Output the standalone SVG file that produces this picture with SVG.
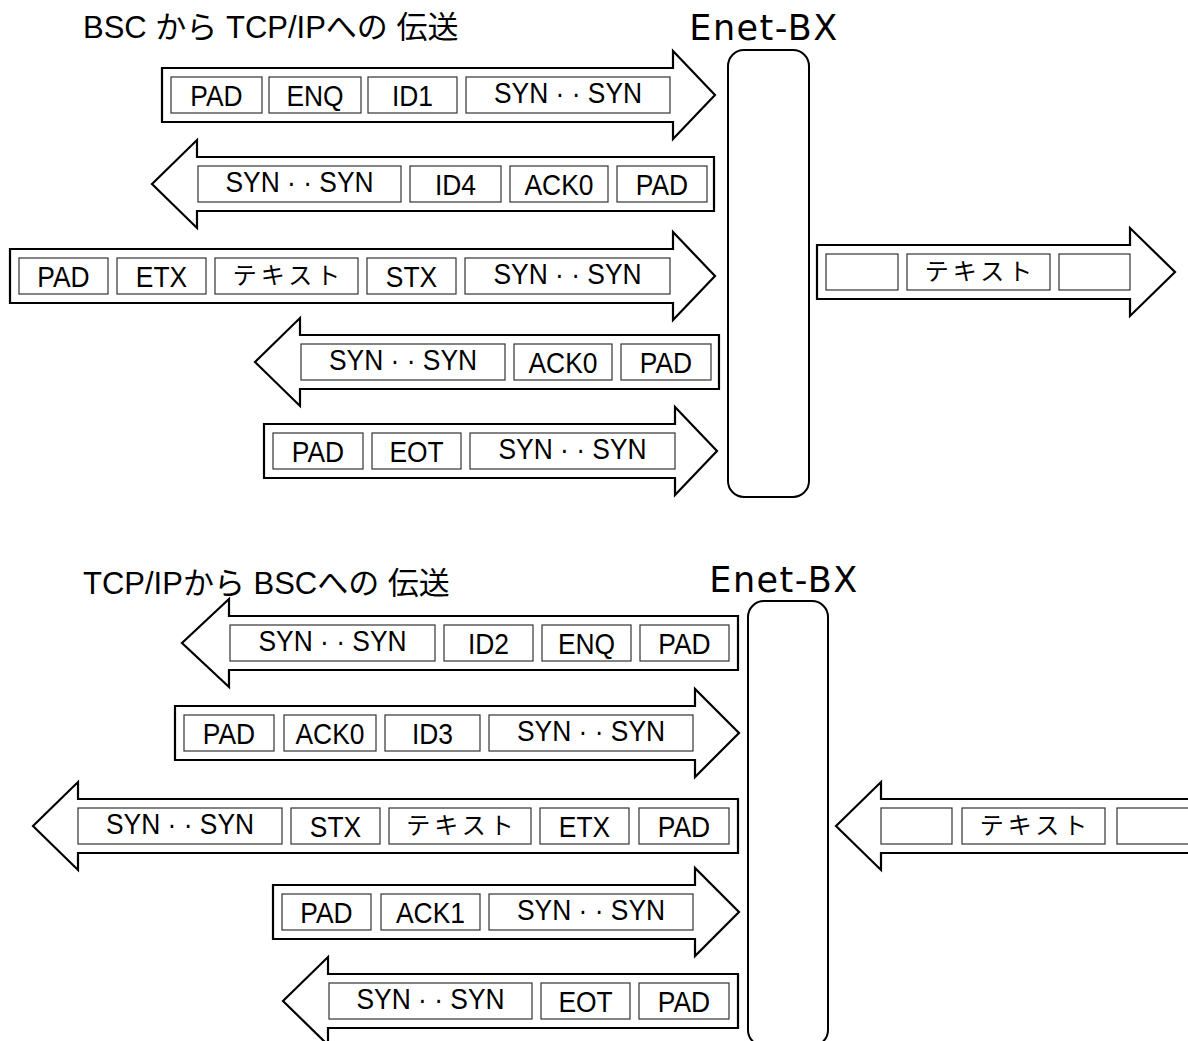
<svg xmlns="http://www.w3.org/2000/svg" width="1188" height="1041" viewBox="0 0 1188 1041">
<style>
.bg{fill:#fff}
.arr{fill:#fff;stroke:#000;stroke-width:2.2;stroke-linejoin:miter}
.box{fill:#fff;stroke:#333;stroke-width:1.2}
.dev{fill:#fff;stroke:#000;stroke-width:2}
.t{font-family:"Liberation Sans",Arial,sans-serif;font-size:30px;text-anchor:middle;fill:#000}
.j{font-family:"Noto Sans CJK JP",sans-serif;font-size:24px;letter-spacing:4px;text-anchor:middle;fill:#000}
.title{font-family:"Liberation Sans","Noto Sans CJK JP",sans-serif;font-size:31px;fill:#000}
.enet{font-family:"DejaVu Sans",sans-serif;font-size:35px;letter-spacing:1.5px;text-anchor:middle;fill:#000}
</style>
<rect class="bg" x="0" y="0" width="1188" height="1041"/>

<text class="title" x="83" y="38">BSC から TCP/IPへの 伝送</text>
<text class="title" x="83" y="594">TCP/IPから BSCへの 伝送</text>

<g id="enet1">
<text class="enet" x="764" y="40">Enet-BX</text>
<rect class="dev" x="728" y="50" width="81" height="447" rx="16"/>
</g>
<g id="enet2">
<text class="enet" x="784" y="592">Enet-BX</text>
<rect class="dev" x="748" y="601" width="80" height="445" rx="16"/>
</g>

<g id="connectors">
<g id="a1">
<polygon class="arr" points="162,68 673,68 673,51 715,95 673,139 673,122 162,122"/>
<rect class="box" x="171" y="77" width="91" height="36"/>
<rect class="box" x="269" y="77" width="92" height="36"/>
<rect class="box" x="368" y="77" width="89" height="36"/>
<rect class="box" x="466" y="77" width="204" height="36"/>
<text class="t" transform="translate(216.5,106) scale(0.88,1)">PAD</text>
<text class="t" transform="translate(315,106) scale(0.88,1)">ENQ</text>
<text class="t" transform="translate(412.5,106) scale(0.88,1)">ID1</text>
<text class="t" transform="translate(568,103) scale(0.88,1)">SYN · · SYN</text>
</g>
<g id="a2">
<polygon class="arr" points="152,184 197,140 197,157 714,157 714,211 197,211 197,228"/>
<rect class="box" x="198" y="166" width="203" height="36"/>
<rect class="box" x="410" y="166" width="91" height="36"/>
<rect class="box" x="510" y="166" width="98" height="36"/>
<rect class="box" x="617" y="166" width="90" height="36"/>
<text class="t" transform="translate(299.5,192) scale(0.88,1)">SYN · · SYN</text>
<text class="t" transform="translate(455.5,195) scale(0.88,1)">ID4</text>
<text class="t" transform="translate(559,195) scale(0.88,1)">ACK0</text>
<text class="t" transform="translate(662,195) scale(0.88,1)">PAD</text>
</g>
<g id="a3">
<polygon class="arr" points="10,249 673,249 673,232 715,276 673,320 673,303 10,303"/>
<rect class="box" x="19" y="258" width="89" height="36"/>
<rect class="box" x="117" y="258" width="89" height="36"/>
<rect class="box" x="215" y="258" width="143" height="36"/>
<rect class="box" x="367" y="258" width="89" height="36"/>
<rect class="box" x="465" y="258" width="205" height="36"/>
<text class="t" transform="translate(63.5,287) scale(0.88,1)">PAD</text>
<text class="t" transform="translate(161.5,287) scale(0.88,1)">ETX</text>
<text class="j" x="288.5" y="284">テキスト</text>
<text class="t" transform="translate(411.5,287) scale(0.88,1)">STX</text>
<text class="t" transform="translate(567.5,284) scale(0.88,1)">SYN · · SYN</text>
</g>
<g id="r1">
<polygon class="arr" points="817,245 1130,245 1130,228 1175,272 1130,316 1130,299 817,299"/>
<rect class="box" x="826" y="254" width="72" height="36"/>
<rect class="box" x="907" y="254" width="143" height="36"/>
<rect class="box" x="1059" y="254" width="71" height="36"/>
<text class="j" x="980.5" y="280">テキスト</text>
</g>
<g id="a4">
<polygon class="arr" points="255,362 300,318 300,335 719,335 719,389 300,389 300,406"/>
<rect class="box" x="301" y="344" width="204" height="36"/>
<rect class="box" x="514" y="344" width="98" height="36"/>
<rect class="box" x="621" y="344" width="90" height="36"/>
<text class="t" transform="translate(403,370) scale(0.88,1)">SYN · · SYN</text>
<text class="t" transform="translate(563,373) scale(0.88,1)">ACK0</text>
<text class="t" transform="translate(666,373) scale(0.88,1)">PAD</text>
</g>
<g id="a5">
<polygon class="arr" points="264,424 675,424 675,407 717,451 675,495 675,478 264,478"/>
<rect class="box" x="273" y="433" width="90" height="36"/>
<rect class="box" x="372" y="433" width="89" height="36"/>
<rect class="box" x="470" y="433" width="205" height="36"/>
<text class="t" transform="translate(318,462) scale(0.88,1)">PAD</text>
<text class="t" transform="translate(416.5,462) scale(0.88,1)">EOT</text>
<text class="t" transform="translate(572.5,459) scale(0.88,1)">SYN · · SYN</text>
</g>

<g id="b1">
<polygon class="arr" points="182,643 229,599 229,616 738,616 738,670 229,670 229,687"/>
<rect class="box" x="230" y="625" width="205" height="36"/>
<rect class="box" x="444" y="625" width="89" height="36"/>
<rect class="box" x="542" y="625" width="89" height="36"/>
<rect class="box" x="640" y="625" width="89" height="36"/>
<text class="t" transform="translate(332.5,651) scale(0.88,1)">SYN · · SYN</text>
<text class="t" transform="translate(488.5,654) scale(0.88,1)">ID2</text>
<text class="t" transform="translate(586.5,654) scale(0.88,1)">ENQ</text>
<text class="t" transform="translate(684.5,654) scale(0.88,1)">PAD</text>
</g>
<g id="b2">
<polygon class="arr" points="175,706 695,706 695,689 739,733 695,777 695,760 175,760"/>
<rect class="box" x="184" y="715" width="90" height="36"/>
<rect class="box" x="284" y="715" width="92" height="36"/>
<rect class="box" x="385" y="715" width="95" height="36"/>
<rect class="box" x="489" y="715" width="204" height="36"/>
<text class="t" transform="translate(229,744) scale(0.88,1)">PAD</text>
<text class="t" transform="translate(330,744) scale(0.88,1)">ACK0</text>
<text class="t" transform="translate(432.5,744) scale(0.88,1)">ID3</text>
<text class="t" transform="translate(591,741) scale(0.88,1)">SYN · · SYN</text>
</g>
<g id="b3">
<polygon class="arr" points="33,826 78,782 78,799 738,799 738,853 78,853 78,870"/>
<rect class="box" x="78" y="808" width="204" height="36"/>
<rect class="box" x="291" y="808" width="89" height="36"/>
<rect class="box" x="389" y="808" width="142" height="36"/>
<rect class="box" x="540" y="808" width="89" height="36"/>
<rect class="box" x="639" y="808" width="90" height="36"/>
<text class="t" transform="translate(180,834) scale(0.88,1)">SYN · · SYN</text>
<text class="t" transform="translate(335.5,837) scale(0.88,1)">STX</text>
<text class="j" x="462" y="834">テキスト</text>
<text class="t" transform="translate(584.5,837) scale(0.88,1)">ETX</text>
<text class="t" transform="translate(684,837) scale(0.88,1)">PAD</text>
</g>
<g id="r2">
<polygon class="arr" points="836,826 881,782 881,799 1195,799 1195,853 881,853 881,870"/>
<rect class="box" x="881" y="808" width="71" height="36"/>
<rect class="box" x="962" y="808" width="143" height="36"/>
<rect class="box" x="1117" y="808" width="80" height="36"/>
<text class="j" x="1035.5" y="834">テキスト</text>
</g>
<g id="b4">
<polygon class="arr" points="273,885 695,885 695,868 739,912 695,956 695,939 273,939"/>
<rect class="box" x="282" y="894" width="89" height="36"/>
<rect class="box" x="381" y="894" width="99" height="36"/>
<rect class="box" x="489" y="894" width="204" height="36"/>
<text class="t" transform="translate(326.5,923) scale(0.88,1)">PAD</text>
<text class="t" transform="translate(430.5,923) scale(0.88,1)">ACK1</text>
<text class="t" transform="translate(591,920) scale(0.88,1)">SYN · · SYN</text>
</g>
<g id="b5">
<polygon class="arr" points="283,1001 328,957 328,974 738,974 738,1028 328,1028 328,1045"/>
<rect class="box" x="329" y="983" width="203" height="36"/>
<rect class="box" x="541" y="983" width="89" height="36"/>
<rect class="box" x="639" y="983" width="90" height="36"/>
<text class="t" transform="translate(430.5,1009) scale(0.88,1)">SYN · · SYN</text>
<text class="t" transform="translate(585.5,1012) scale(0.88,1)">EOT</text>
<text class="t" transform="translate(684,1012) scale(0.88,1)">PAD</text>
</g>
</g>
</svg>
